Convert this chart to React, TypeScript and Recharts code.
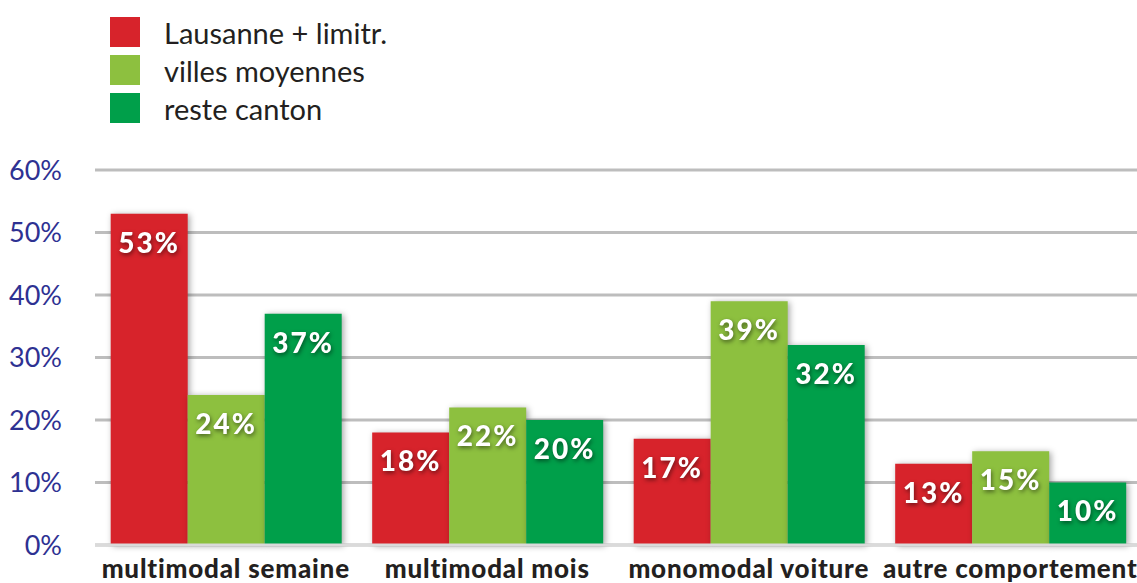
import { BarChart, Bar, XAxis, YAxis, CartesianGrid, Legend, LabelList } from 'recharts';

const categories = ['multimodal semaine', 'multimodal mois', 'monomodal voiture', 'autre comportement'];
const lausanne = [53, 18, 17, 13];
const villesMoyennes = [24, 22, 39, 15];
const resteCanton = [37, 20, 32, 10];
const yTicks = [0, 10, 20, 30, 40, 50, 60];

const series = [
  { key: 'lausanne', name: 'Lausanne + limitr.', color: '#D7232B' },
  { key: 'villes', name: 'villes moyennes', color: '#8DC03F' },
  { key: 'reste', name: 'reste canton', color: '#009F4A' },
];

const data = categories.map((name, i) => ({
  name,
  lausanne: lausanne[i],
  villes: villesMoyennes[i],
  reste: resteCanton[i],
}));

const FONT = 'Lato, "Open Sans", sans-serif';

const ShadowBar = (props: any) => {
  const { x, y, width, height, fill } = props;
  if (!height || height <= 0) return null;
  return (
    <rect
      x={x}
      y={y}
      width={width}
      height={height}
      fill={fill}
      style={{ filter: 'drop-shadow(2px 1px 3px rgba(0,0,0,0.35))' }}
    />
  );
};

const LegendBox = () => (
  <div style={{ fontFamily: FONT, fontSize: 29, color: '#231F20' }}>
    {series.map((s) => (
      <div key={s.key} style={{ display: 'flex', alignItems: 'center', height: 38 }}>
        <span style={{ width: 30, height: 30, background: s.color, display: 'inline-block', marginRight: 24, flexShrink: 0 }} />
        <span>{s.name}</span>
      </div>
    ))}
  </div>
);

const App = () => {
  return (
    <div style={{ position: 'absolute', left: 0, top: 0, width: 1137, height: 583, overflow: 'hidden', background: '#fff' }}>
      <BarChart
        width={1141}
        height={583}
        data={data}
        margin={{ top: 170, right: 0, bottom: 0, left: 0 }}
        barCategoryGap="6%"
        barGap={0}
      >
        <CartesianGrid vertical={false} stroke="#BDBDBD" strokeWidth={3} />
        <XAxis
          dataKey="name"
          height={38}
          tickLine={false}
          tickSize={0}
          tickMargin={15}
          axisLine={{ stroke: '#DADADA', strokeWidth: 3 }}
          tick={{ fill: '#231F20', fontSize: 26, fontWeight: 900, fontFamily: FONT, letterSpacing: 0.8 }}
          interval={0}
        />
        <YAxis
          width={95}
          domain={[0, 60]}
          ticks={yTicks}
          tickFormatter={(v: number) => `${v}%`}
          axisLine={false}
          tickLine={false}
          tickSize={0}
          tickMargin={33}
          tick={{ fill: '#2E3192', fontSize: 27, fontFamily: FONT }}
        />
        <Legend
          layout="vertical"
          verticalAlign="middle"
          align="center"
          content={<LegendBox />}
          wrapperStyle={{ position: 'absolute', left: 110, top: 13, width: 420 }}
        />
        {series.map((s) => (
          <Bar key={s.key} dataKey={s.key} name={s.name} fill={s.color} shape={<ShadowBar />} isAnimationActive={false}>
            <LabelList
              dataKey={s.key}
              position="insideTop"
              offset={19}
              formatter={(v: any) => `${v}%`}
              fill="#fff"
              fontSize={28}
              fontWeight={900}
              fontFamily={FONT}
              style={{ filter: 'drop-shadow(1px 2px 2px rgba(0,0,0,0.5))', letterSpacing: 2 }}
            />
          </Bar>
        ))}
      </BarChart>
    </div>
  );
};

export default App;
